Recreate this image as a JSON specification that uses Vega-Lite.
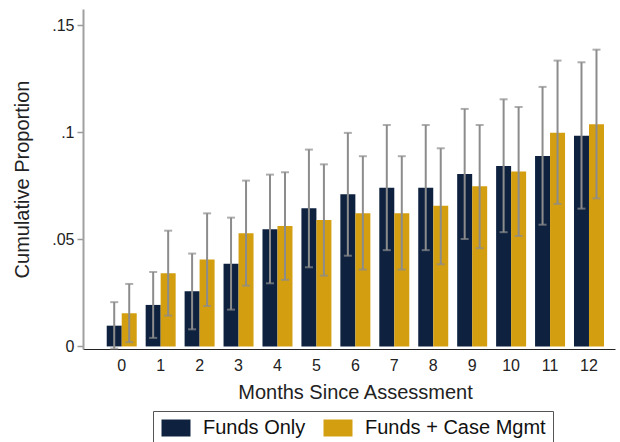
{
  "$schema": "https://vega.github.io/schema/vega-lite/v6.json",
  "width": 532,
  "height": 340,
  "autosize": {"type": "none"},
  "padding": {"left": 83, "top": 9, "right": 5, "bottom": 100},
  "background": "white",
  "config": {
    "view": {"stroke": null},
    "font": "Liberation Sans",
    "axis": {"grid": false, "labelColor": "#222", "titleColor": "#222", "titleFontWeight": "normal", "labelFont": "Liberation Sans", "titleFont": "Liberation Sans"}
  },
  "data": {
    "values": [
      {"month": 0, "group": "Funds Only", "mean": 0.0097, "lo": -0.0010, "hi": 0.0207},
      {"month": 0, "group": "Funds + Case Mgmt", "mean": 0.0155, "lo": 0.0020, "hi": 0.0292},
      {"month": 1, "group": "Funds Only", "mean": 0.0194, "lo": 0.0040, "hi": 0.0348},
      {"month": 1, "group": "Funds + Case Mgmt", "mean": 0.0342, "lo": 0.0144, "hi": 0.0541},
      {"month": 2, "group": "Funds Only", "mean": 0.0258, "lo": 0.0080, "hi": 0.0434},
      {"month": 2, "group": "Funds + Case Mgmt", "mean": 0.0406, "lo": 0.0189, "hi": 0.0622},
      {"month": 3, "group": "Funds Only", "mean": 0.0386, "lo": 0.0172, "hi": 0.0602},
      {"month": 3, "group": "Funds + Case Mgmt", "mean": 0.0529, "lo": 0.0284, "hi": 0.0775},
      {"month": 4, "group": "Funds Only", "mean": 0.0548, "lo": 0.0295, "hi": 0.0803},
      {"month": 4, "group": "Funds + Case Mgmt", "mean": 0.0563, "lo": 0.0311, "hi": 0.0814},
      {"month": 5, "group": "Funds Only", "mean": 0.0646, "lo": 0.0370, "hi": 0.0920},
      {"month": 5, "group": "Funds + Case Mgmt", "mean": 0.0591, "lo": 0.0331, "hi": 0.0851},
      {"month": 6, "group": "Funds Only", "mean": 0.0711, "lo": 0.0424, "hi": 0.0998},
      {"month": 6, "group": "Funds + Case Mgmt", "mean": 0.0622, "lo": 0.0359, "hi": 0.0889},
      {"month": 7, "group": "Funds Only", "mean": 0.0742, "lo": 0.0450, "hi": 0.1035},
      {"month": 7, "group": "Funds + Case Mgmt", "mean": 0.0622, "lo": 0.0359, "hi": 0.0889},
      {"month": 8, "group": "Funds Only", "mean": 0.0742, "lo": 0.0450, "hi": 0.1035},
      {"month": 8, "group": "Funds + Case Mgmt", "mean": 0.0657, "lo": 0.0384, "hi": 0.0926},
      {"month": 9, "group": "Funds Only", "mean": 0.0806, "lo": 0.0502, "hi": 0.1110},
      {"month": 9, "group": "Funds + Case Mgmt", "mean": 0.0749, "lo": 0.0459, "hi": 0.1035},
      {"month": 10, "group": "Funds Only", "mean": 0.0843, "lo": 0.0534, "hi": 0.1155},
      {"month": 10, "group": "Funds + Case Mgmt", "mean": 0.0817, "lo": 0.0516, "hi": 0.1119},
      {"month": 11, "group": "Funds Only", "mean": 0.0890, "lo": 0.0569, "hi": 0.1213},
      {"month": 11, "group": "Funds + Case Mgmt", "mean": 0.0999, "lo": 0.0666, "hi": 0.1336},
      {"month": 12, "group": "Funds Only", "mean": 0.0985, "lo": 0.0644, "hi": 0.1328},
      {"month": 12, "group": "Funds + Case Mgmt", "mean": 0.1038, "lo": 0.0692, "hi": 0.1387}
    ]
  },
  "encoding": {
    "x": {
      "field": "month",
      "type": "ordinal",
      "scale": {"paddingInner": 0.2296, "paddingOuter": 0.446, "align": 0.683},
      "axis": {
        "title": "Months Since Assessment",
        "labelAngle": 0,
        "labelFontSize": 16,
        "labelPadding": 8,
        "ticks": false,
        "tickSize": 0,
        "domainColor": "#222",
        "domainWidth": 1,
        "titleFontSize": 20,
        "titleX": 272,
        "titleY": 49,
        "titleBaseline": "alphabetic"
      }
    },
    "xOffset": {
      "field": "group",
      "type": "nominal",
      "sort": ["Funds Only", "Funds + Case Mgmt"],
      "scale": {"paddingInner": 0, "paddingOuter": 0}
    }
  },
  "layer": [
    {
      "mark": {"type": "bar"},
      "encoding": {
        "y": {
          "field": "mean",
          "type": "quantitative",
          "scale": {"domain": [-0.0012, 0.1577], "nice": false, "zero": false},
          "axis": {
            "title": "Cumulative Proportion",
            "values": [0, 0.05, 0.1, 0.15],
            "labelExpr": "datum.value == 0 ? '0' : replace(format(datum.value, '~g'), '0.', '.')",
            "labelFontSize": 16,
            "labelPadding": 3,
            "tickSize": 6,
            "tickColor": "#9a9a9a",
            "tickWidth": 1.5,
            "domainColor": "#a0a0a0",
            "domainWidth": 2,
            "titleFontSize": 20,
            "titleX": -55,
            "titleY": 170,
            "titleBaseline": "alphabetic"
          }
        },
        "y2": {"datum": 0},
        "color": {
          "field": "group",
          "type": "nominal",
          "scale": {"domain": ["Funds Only", "Funds + Case Mgmt"], "range": ["#0e2240", "#d39e10"]},
          "legend": {
            "title": null,
            "orient": "none",
            "direction": "horizontal",
            "legendX": 70,
            "legendY": 402,
            "padding": 7,
            "strokeColor": "#555",
            "symbolType": "M-1,-1H2.412V1H-1Z",
            "symbolSize": 289,
            "symbolStrokeWidth": 0,
            "symbolOpacity": 1,
            "labelFontSize": 20,
            "labelLimit": 400,
            "labelColor": "#111",
            "labelOffset": 23,
            "columnPadding": 16
          }
        }
      }
    },
    {
      "mark": {"type": "rule", "color": "#8c8c8c", "strokeWidth": 2},
      "encoding": {
        "y": {"field": "lo", "type": "quantitative"},
        "y2": {"field": "hi"}
      }
    },
    {
      "mark": {"type": "tick", "color": "#8c8c8c", "thickness": 2, "size": 8},
      "encoding": {
        "y": {"field": "hi", "type": "quantitative"}
      }
    },
    {
      "mark": {"type": "tick", "color": "#8c8c8c", "thickness": 2, "size": 8},
      "encoding": {
        "y": {"field": "lo", "type": "quantitative"}
      }
    }
  ]
}
